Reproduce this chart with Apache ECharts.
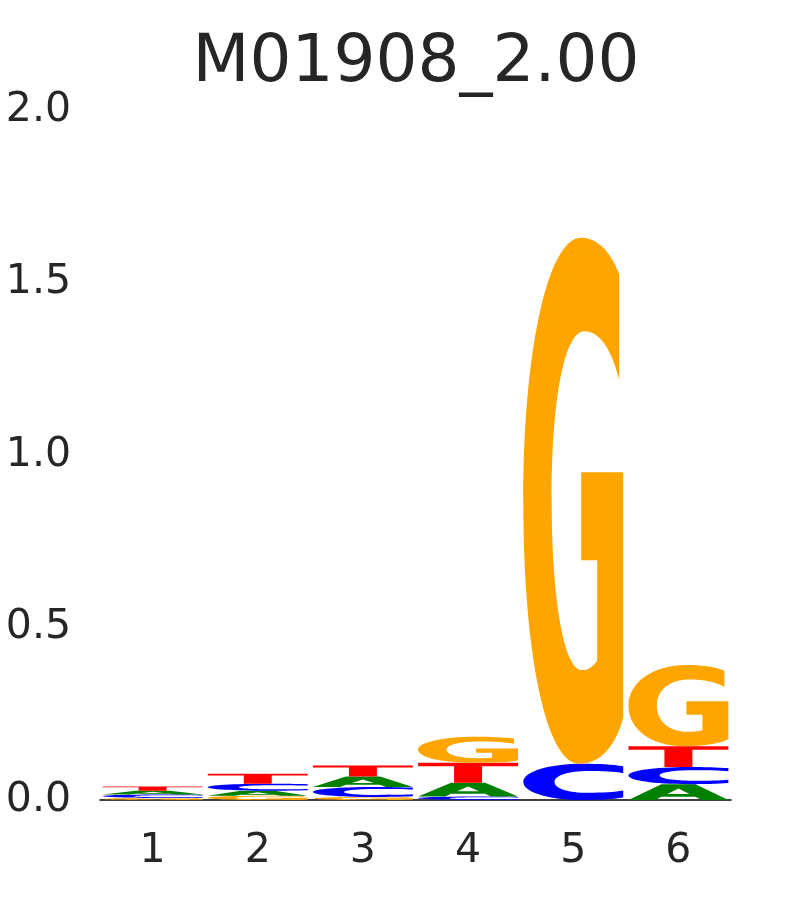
<!DOCTYPE html>
<html>
<head>
<meta charset="utf-8">
<script src="https://cdn.jsdelivr.net/npm/echarts@6/dist/echarts.min.js"></script>
<style>html,body{margin:0;padding:0;background:#fff;}#chart{width:810px;height:900px;}</style>
</head>
<body>
<div id="chart"></div>
<script>
const positions = ['1', '2', '3', '4', '5', '6'];
const letters = ['A', 'C', 'G', 'T'];
const heightA = [0.011, 0.015, 0.030, 0.040, 0.000, 0.046];
const heightC = [0.010, 0.020, 0.029, 0.010, 0.105, 0.050];
const heightG = [0.006, 0.012, 0.009, 0.075, 1.525, 0.235];
const heightT = [0.012, 0.029, 0.032, 0.058, 0.000, 0.060];
const titleText = 'M01908_2.00';

const COLORS = ['#008000', '#0000ff', '#ffa500', '#ff0000'];
const GLYPHS = [
  // A
  'M0 100 L33 0 L67 0 L100 100 L73 100 L67 80 L33 80 L27 100 Z M39 62 L61 62 L50 28 Z',
  // C
  'M96 6.9 C86 2 72 0 58 0 C24 0 0 22 0 50 C0 78 24 100 58 100 C72 100 86 98 96 93.1 L96 74 C88 79 76 80 62 80 C44 80 30 68 30 50 C30 32 44 20 62 20 C76 20 88 21 96 26 Z',
  // G
  'M96 6.9 C86 2 72 0 58 0 C24 0 0 22 0 50 C0 80 24 100 56 100 C76 100 92 97 100 91.2 L100 44.6 L58 44.6 L58 61.3 L74 61.3 L74 80.3 C70 81.6 64 82.2 59 82.2 C40 82.2 28.4 68 28.4 50 C28.4 30 42 17.8 61 17.8 C76 17.8 88 21 96 27 Z',
  // T
  'M0 0 L100 0 L100 17 L64 17 L64 100 L36 100 L36 17 L0 17 Z'
];

const heights = [heightA, heightC, heightG, heightT];
const stackData = [];
positions.forEach((p, i) => {
  const order = letters.map((l, li) => ({ li, h: heights[li][i] }))
    .filter(o => o.h > 0)
    .sort((a, b) => a.h - b.h);
  let base = 0;
  order.forEach(o => {
    stackData.push([i, base, base + o.h, o.li]);
    base += o.h;
  });
});

const chart = echarts.init(document.getElementById('chart'));
chart.setOption({
  animation: false,
  backgroundColor: '#ffffff',
  title: {
    text: titleText,
    left: 411,
    top: 26,
    textAlign: 'center',
    textStyle: { fontFamily: 'DejaVu Sans', fontSize: 66, fontWeight: 'normal', color: '#262626' }
  },
  grid: { left: 100, right: 79, top: 110, bottom: 100, containLabel: false },
  xAxis: {
    type: 'category',
    data: positions,
    boundaryGap: true,
    axisTick: { show: false },
    axisLine: { show: true, lineStyle: { color: '#000000', width: 1.5 } },
    axisLabel: { fontFamily: 'DejaVu Sans', fontSize: 41, color: '#262626', margin: 31 },
    splitLine: { show: false }
  },
  yAxis: {
    type: 'value',
    min: 0, max: 2, interval: 0.5,
    axisTick: { show: false },
    axisLine: { show: false },
    splitLine: { show: false },
    axisLabel: {
      fontFamily: 'DejaVu Sans', fontSize: 41, color: '#262626', margin: 29,
      padding: [9, 0, 0, 0],
      formatter: v => v.toFixed(1)
    }
  },
  series: [{
    type: 'custom',
    data: stackData,
    encode: { x: 0, y: [1, 2] },
    renderItem: (params, api) => {
      const i = api.value(0), y0 = api.value(1), y1 = api.value(2), li = api.value(3);
      const p0 = api.coord([i, y0]);
      const p1 = api.coord([i, y1]);
      const w = api.size([1, 0])[0] * 0.95;
      const h = p0[1] - p1[1];
      if (h <= 0.05) return null;
      return {
        type: 'path',
        shape: { pathData: GLYPHS[li], x: p0[0] - w / 2, y: p1[1], width: w, height: h, layout: 'cover' },
        style: { fill: COLORS[li] }
      };
    }
  }]
});
</script>
</body>
</html>
